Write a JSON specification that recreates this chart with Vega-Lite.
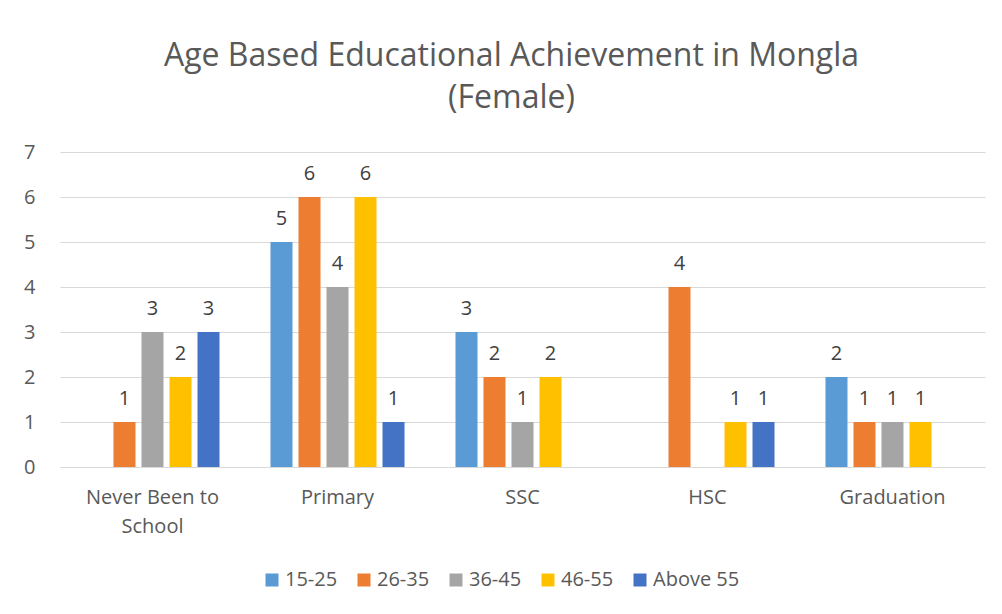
{
  "$schema": "https://vega.github.io/schema/vega-lite/v6.json",
  "width": 925,
  "height": 315,
  "autosize": {"type": "none"},
  "padding": {"left": 60, "top": 152, "right": 17, "bottom": 147},
  "background": "white",
  "title": {
    "text": ["Age Based Educational Achievement in Mongla", "(Female)"],
    "font": "Open Sans",
    "fontSize": 32,
    "fontWeight": "normal",
    "color": "#595959",
    "lineHeight": 42,
    "anchor": "middle",
    "offset": 27,
    "dx": -11
  },
  "data": {
    "values": [
      {"cat": "Never Been to School", "age": "26-35", "value": 1},
      {"cat": "Never Been to School", "age": "36-45", "value": 3},
      {"cat": "Never Been to School", "age": "46-55", "value": 2},
      {"cat": "Never Been to School", "age": "Above 55", "value": 3},
      {"cat": "Primary", "age": "15-25", "value": 5},
      {"cat": "Primary", "age": "26-35", "value": 6},
      {"cat": "Primary", "age": "36-45", "value": 4},
      {"cat": "Primary", "age": "46-55", "value": 6},
      {"cat": "Primary", "age": "Above 55", "value": 1},
      {"cat": "SSC", "age": "15-25", "value": 3},
      {"cat": "SSC", "age": "26-35", "value": 2},
      {"cat": "SSC", "age": "36-45", "value": 1},
      {"cat": "SSC", "age": "46-55", "value": 2},
      {"cat": "HSC", "age": "26-35", "value": 4},
      {"cat": "HSC", "age": "46-55", "value": 1},
      {"cat": "HSC", "age": "Above 55", "value": 1},
      {"cat": "Graduation", "age": "15-25", "value": 2},
      {"cat": "Graduation", "age": "26-35", "value": 1},
      {"cat": "Graduation", "age": "36-45", "value": 1},
      {"cat": "Graduation", "age": "46-55", "value": 1}
    ]
  },
  "encoding": {
    "x": {
      "field": "cat",
      "type": "nominal",
      "sort": ["Never Been to School", "Primary", "SSC", "HSC", "Graduation"],
      "scale": {"paddingInner": 0, "paddingOuter": 0},
      "axis": {
        "title": null,
        "labelAngle": 0,
        "labelFontSize": 20,
        "labelFont": "Open Sans",
        "labelColor": "#595959",
        "labelPadding": 20,
        "ticks": false,
        "domainColor": "#D9D9D9",
        "domainWidth": 1,
        "labelExpr": "datum.label == 'Never Been to School' ? ['Never Been to', 'School'] : datum.label",
        "labelLineHeight": 29
      }
    },
    "xOffset": {
      "field": "age",
      "type": "nominal",
      "scale": {
        "domain": ["15-25", "26-35", "36-45", "46-55", "Above 55"],
        "paddingInner": 0.214,
        "paddingOuter": 0.91
      }
    },
    "y": {
      "field": "value",
      "type": "quantitative",
      "scale": {"domain": [0, 7]},
      "axis": {
        "title": null,
        "values": [0, 1, 2, 3, 4, 5, 6, 7],
        "labelFontSize": 20,
        "labelFont": "Open Sans",
        "labelColor": "#595959",
        "labelPadding": 25,
        "ticks": false,
        "domain": false,
        "gridColor": "#D9D9D9",
        "gridWidth": 1
      }
    }
  },
  "layer": [
    {
      "mark": {"type": "bar"},
      "encoding": {
        "color": {
          "field": "age",
          "type": "nominal",
          "scale": {
            "domain": ["15-25", "26-35", "36-45", "46-55", "Above 55"],
            "range": ["#5B9BD5", "#ED7D31", "#A5A5A5", "#FFC000", "#4472C4"]
          },
          "legend": {
            "title": null,
            "orient": "none",
            "legendX": 202,
            "legendY": 418,
            "padding": 0,
            "direction": "horizontal",
            "symbolType": "square",
            "symbolSize": 169,
            "symbolStrokeWidth": 0,
            "symbolOpacity": 1,
            "labelFontSize": 20,
            "labelFont": "Open Sans",
            "labelColor": "#595959",
            "columnPadding": 16,
            "labelOffset": 3
          }
        }
      }
    },
    {
      "mark": {"type": "text", "baseline": "alphabetic", "dy": -17, "fontSize": 20, "font": "Open Sans", "color": "#404040"},
      "encoding": {
        "text": {"field": "value", "type": "quantitative"}
      }
    }
  ],
  "config": {
    "view": {"stroke": null}
  }
}
